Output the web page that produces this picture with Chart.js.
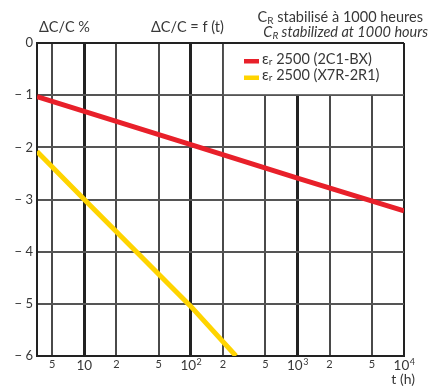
<!DOCTYPE html>
<html>
<head>
<meta charset="utf-8">
<script src="https://cdn.jsdelivr.net/npm/chart.js@4.4.1/dist/chart.umd.min.js"></script>
<style>
  html, body { margin: 0; padding: 0; background: #fff; }
  #wrap { position: relative; width: 432px; height: 388px; }
</style>
</head>
<body>
<div id="wrap"><canvas id="c" width="432" height="388"></canvas></div>
<script>
// Capacitance drift versus time (log scale), two dielectric grades
const redTime    = [3.6, 10, 100, 1000, 10000];
const redDrift   = [-1.03, -1.31, -1.95, -2.59, -3.22];
const yellowTime  = [3.6, 10, 100, 265];
const yellowDrift = [-2.08, -3.0, -5.05, -6.0];

const seriesNames = [' 2500 (2C1-BX)', ' 2500 (X7R-2R1)'];
const seriesColors = ['#e8202a', '#ffd400'];

// vertical grid positions (hours) and their labels
const gridTimes = [5, 10, 20, 50, 100, 200, 500, 1000, 2000, 5000, 10000];
const tickMain  = ['5', '10', '2', '5', '10', '2', '5', '10', '2', '5', '10'];
const tickExp   = ['', '', '', '', '2', '', '', '3', '', '', '4'];

const yTicks  = [0, -1, -2, -3, -4, -5, -6];
const yLabels = ['0', '\u2212 1', '\u2212 2', '\u2212 3', '\u2212 4', '\u2212 5', '\u2212 6'];

const FONT = 'Lato, "Open Sans", sans-serif';
const TEXT = '#383838';
const isDecade = v => v === 10 || v === 100 || v === 1000;

const annotations = {
  id: 'annotations',
  beforeDatasetsDraw(chart) {
    // legend panel hides the grid in the upper right corner
    const { ctx, scales: { x, y } } = chart;
    const left = x.getPixelForValue(200) + 1;
    const right = x.getPixelForValue(10000) - 1;
    const top = y.getPixelForValue(0) + 1;
    const bottom = y.getPixelForValue(-1) - 1;
    ctx.save();
    ctx.fillStyle = '#fff';
    ctx.fillRect(left, top, right - left, bottom - top);
    ctx.restore();
  },
  afterDraw(chart) {
    const { ctx, scales: { x, y } } = chart;
    ctx.save();
    ctx.fillStyle = TEXT;

    // y labels
    ctx.textBaseline = 'middle';
    ctx.font = '13px ' + FONT;
    ctx.textAlign = 'right';
    yTicks.forEach((v, i) => {
      ctx.fillText(yLabels[i], x.left - 4, y.getPixelForValue(v));
    });

    // x labels
    ctx.textBaseline = 'alphabetic';
    gridTimes.forEach((v, i) => {
      const px = x.getPixelForValue(v);
      const main = tickMain[i];
      if (main === '10') {
        ctx.font = '13.5px ' + FONT;
        const w1 = ctx.measureText(main).width;
        let w2 = 0;
        if (tickExp[i]) { ctx.font = '9px ' + FONT; w2 = ctx.measureText(tickExp[i]).width; }
        const start = px - (w1 + w2) / 2;
        ctx.textAlign = 'left';
        ctx.font = '13.5px ' + FONT;
        ctx.fillText(main, start, 370);
        if (tickExp[i]) {
          ctx.font = '9px ' + FONT;
          ctx.fillText(tickExp[i], start + w1 + 0.5, 365);
        }
      } else {
        ctx.font = '11px ' + FONT;
        ctx.textAlign = 'center';
        ctx.fillText(main, px, 368);
      }
    });

    ctx.font = '14px ' + FONT;
    ctx.textAlign = 'right';
    ctx.fillText('t (h)', 415, 384);

    // headings
    ctx.textAlign = 'left';
    ctx.font = '14.5px ' + FONT;
    ctx.fillText('\u0394C/C %', 39, 32);
    ctx.fillText('\u0394C/C = f (t)', 151, 32);

    const drawCR = (italic, rest, yy, rightEdge) => {
      const base = (italic ? 'italic ' : '') + '14.5px ' + FONT;
      const sub = (italic ? 'italic ' : '') + '10px ' + FONT;
      ctx.font = base; const wC = ctx.measureText('C').width;
      ctx.font = sub; const wR = ctx.measureText('R').width;
      ctx.font = base; const wRest = ctx.measureText(rest).width;
      const start = rightEdge - (wC + wR + wRest);
      ctx.textAlign = 'left';
      ctx.fillText('C', start, yy);
      ctx.font = sub; ctx.fillText('R', start + wC, yy + 2);
      ctx.font = base; ctx.fillText(rest, start + wC + wR, yy);
    };
    drawCR(false, ' stabilis\u00e9 \u00e0 1000 heures', 22, 423);
    drawCR(true, ' stabilized at 1000 hours', 37, 428);

    // legend entries
    chart.data.datasets.forEach((ds, i) => {
      const ly = 63.5 + i * 16.5;
      ctx.fillStyle = ds.borderColor;
      ctx.fillRect(244, ly - 4.5, 15, 4.5);
      ctx.fillStyle = TEXT;
      ctx.font = '15px ' + FONT;
      ctx.textAlign = 'left';
      ctx.fillText('\u03b5', 262, ly);
      const we = ctx.measureText('\u03b5').width;
      ctx.font = '10px ' + FONT;
      ctx.fillText('r', 262 + we, ly + 1);
      const wr = ctx.measureText('r').width;
      ctx.font = '14.5px ' + FONT;
      ctx.fillText(seriesNames[i], 262 + we + wr, ly);
    });
    ctx.restore();
  }
};

new Chart(document.getElementById('c'), {
  type: 'line',
  data: {
    datasets: [
      {
        label: 'εr' + seriesNames[0],
        data: redTime.map((t, i) => ({ x: t, y: redDrift[i] })),
        borderColor: seriesColors[0],
        borderWidth: 5,
        pointRadius: 0,
        tension: 0
      },
      {
        label: 'εr' + seriesNames[1],
        data: yellowTime.map((t, i) => ({ x: t, y: yellowDrift[i] })),
        borderColor: seriesColors[1],
        borderWidth: 5,
        pointRadius: 0,
        tension: 0
      }
    ]
  },
  options: {
    responsive: false,
    animation: false,
    layout: { padding: { left: 37, right: 28, top: 43, bottom: 32 } },
    plugins: { legend: { display: false }, tooltip: { enabled: false } },
    scales: {
      x: {
        type: 'logarithmic',
        min: 3.6,
        max: 10000,
        afterBuildTicks: s => { s.ticks = gridTimes.map(v => ({ value: v })); },
        ticks: { display: false },
        grid: {
          drawTicks: false,
          color: c => (c.tick && (isDecade(c.tick.value) || c.tick.value === 10000)) ? '#222' : '#4a4a4a',
          lineWidth: c => (c.tick && isDecade(c.tick.value)) ? 3 : 2
        },
        border: { display: true, color: '#222', width: 2 }
      },
      y: {
        min: -6,
        max: 0,
        afterBuildTicks: s => { s.ticks = yTicks.map(v => ({ value: v })); },
        ticks: { display: false },
        grid: {
          drawTicks: false,
          color: c => (c.tick && c.tick.value === 0) ? '#222' : '#555',
          lineWidth: 2
        },
        border: { display: true, color: '#222', width: 2 }
      }
    }
  },
  plugins: [annotations]
});
</script>
</body>
</html>
